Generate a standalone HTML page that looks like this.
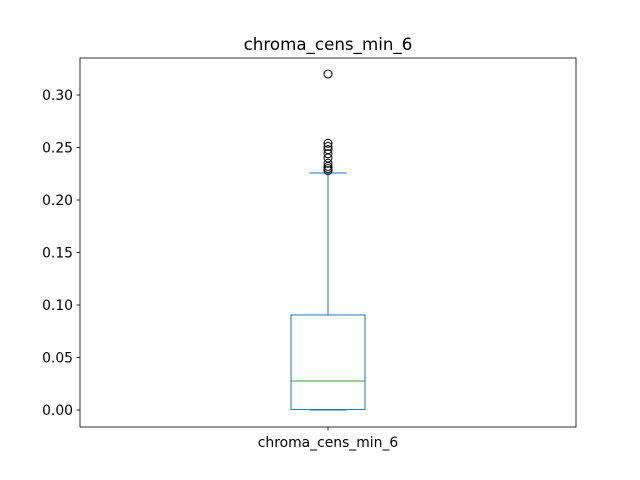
<!DOCTYPE html>
<html><head><meta charset="utf-8"><style>body{margin:0;background:#fff}svg{display:block}text{font-family:"DejaVu Sans","Liberation Sans",sans-serif}</style></head>
<body>
<svg id="c" width="640" height="480" xmlns="http://www.w3.org/2000/svg">
<rect width="640" height="480" fill="#fff"/>
<text x="328" y="50" font-size="16.7" text-anchor="middle">chroma_cens_min_6</text>
</svg>
<script>
const categories=["chroma_cens_min_6"];
const whiskerLow=[0.0];
const q1=[0.0005];
const median=[0.0276];
const q3=[0.0905];
const whiskerHigh=[0.2257];
const outliers=[0.320,0.254,0.251,0.248,0.244,0.240,0.235,0.232,0.230,0.228];
const yTicks=[0,0.05,0.10,0.15,0.20,0.25,0.30];
const yTickLabels=["0.00","0.05","0.10","0.15","0.20","0.25","0.30"];
const NS="http://www.w3.org/2000/svg",svg=document.getElementById('c');
const L=80,R=576,T=58,B=427;
const y=v=>410-v*1050;
const x=i=>L+(R-L)*(i+0.5)/categories.length;
function mk(t,a,p){const e=document.createElementNS(NS,t);for(const k in a)e.setAttribute(k,a[k]);(p||svg).appendChild(e);return e;}
yTicks.forEach((v,i)=>{
 const tk=mk('line',{x1:L-3.5,x2:L,y1:y(v),y2:y(v),stroke:'#000','stroke-width':0.8});
 
 
 const t=mk('text',{x:L-7,y:y(v)+5,'font-size':13.9,'text-anchor':'end'});t.textContent=yTickLabels[i];
 
 
});
categories.forEach((c,i)=>{
 const cx=x(i),w=74,cw=37;
 const g=mk('g',{});
 
 
 mk('rect',{x:cx-w/2,y:y(q3[i]),width:w,height:y(q1[i])-y(q3[i]),fill:'none',stroke:'#1f77b4'},g);
 mk('line',{x1:cx-w/2,x2:cx+w/2,y1:y(median[i]),y2:y(median[i]),stroke:'#2ca02c'},g);
 mk('line',{x1:cx,x2:cx,y1:y(q3[i]),y2:y(whiskerHigh[i]),stroke:'#1f77b4'},g);
 mk('line',{x1:cx,x2:cx,y1:y(q1[i]),y2:y(whiskerLow[i]),stroke:'#1f77b4'},g);
 mk('line',{x1:cx-cw/2,x2:cx+cw/2,y1:y(whiskerHigh[i]),y2:y(whiskerHigh[i]),stroke:'#1f77b4'},g);
 mk('line',{x1:cx-cw/2,x2:cx+cw/2,y1:y(whiskerLow[i]),y2:y(whiskerLow[i]),stroke:'#1f77b4'},g);
 outliers.forEach(v=>{
  const o=mk('circle',{cx:cx,cy:y(v),r:4,fill:'none',stroke:'#000'},g);
  
  
 });
 mk('line',{x1:cx,x2:cx,y1:B,y2:B+3.5,stroke:'#000','stroke-width':0.8});
 const t=mk('text',{x:cx,y:B+20,'font-size':13.9,'text-anchor':'middle'});t.textContent=c;
 
 
});
const fr=mk('rect',{x:L,y:T,width:R-L,height:B-T,fill:'none',stroke:'#000','stroke-width':0.8});


</script>
</body></html>
